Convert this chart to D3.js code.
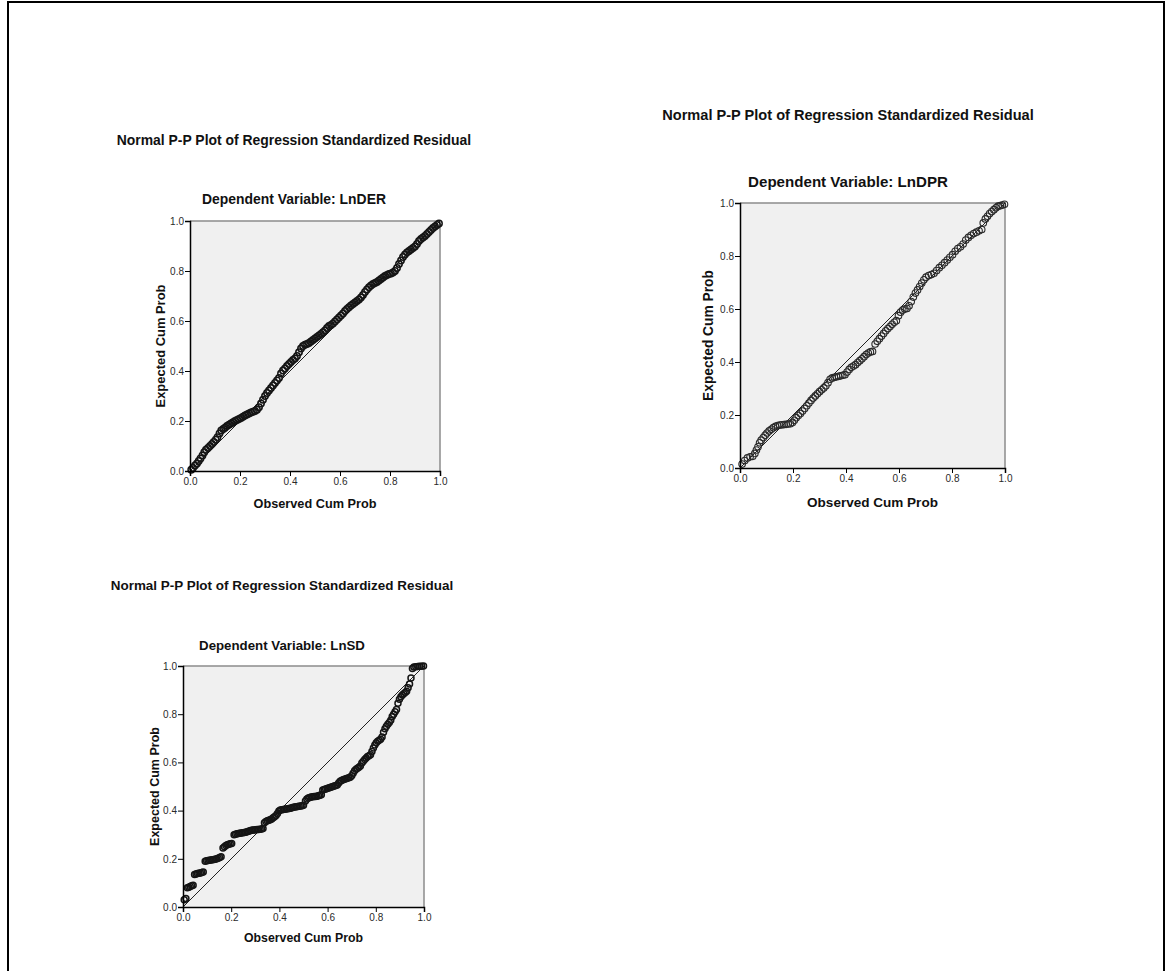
<!DOCTYPE html>
<html><head><meta charset="utf-8">
<script src="https://cdn.jsdelivr.net/npm/d3@7"></script>
<style>body{margin:0;background:#fff;} svg{display:block;font-family:"Liberation Sans",Arial,sans-serif;}</style>
</head><body><svg id="c" width="1168" height="971"></svg>
<script>
const mainTitle = "Normal P-P Plot of Regression Standardized Residual";
const dependentVars = ["LnDER", "LnDPR", "LnSD"];
const xAxisTitle = "Observed Cum Prob";
const yAxisTitle = "Expected Cum Prob";
const tickValues = [0, 0.2, 0.4, 0.6, 0.8, 1.0];

// [observed cum prob, expected cum prob]
const derPoints = [
[0.005,0.005],[0.012,0.012],[0.02,0.022],[0.028,0.03],[0.035,0.04],[0.042,0.05],[0.05,0.062],[0.057,0.075],[0.064,0.085],[0.072,0.092],
[0.08,0.10],[0.088,0.108],[0.095,0.116],[0.103,0.125],[0.11,0.135],[0.118,0.15],[0.125,0.162],[0.133,0.168],[0.14,0.173],[0.148,0.18],
[0.156,0.185],[0.164,0.19],[0.172,0.195],[0.18,0.20],[0.188,0.204],[0.196,0.208],[0.204,0.212],[0.212,0.217],[0.22,0.222],[0.228,0.226],
[0.236,0.23],[0.244,0.234],[0.252,0.237],[0.26,0.24],[0.268,0.245],[0.276,0.255],[0.284,0.27],[0.292,0.285],[0.30,0.30],[0.308,0.312],
[0.316,0.322],[0.324,0.332],[0.332,0.342],[0.34,0.352],[0.348,0.362],[0.356,0.372],[0.364,0.39],[0.372,0.402],[0.38,0.41],[0.388,0.42],
[0.396,0.428],[0.404,0.436],[0.412,0.444],[0.42,0.45],[0.428,0.46],[0.436,0.475],[0.444,0.49],[0.452,0.50],[0.46,0.505],[0.468,0.508],
[0.476,0.512],[0.484,0.518],[0.492,0.524],[0.50,0.53],[0.508,0.536],[0.516,0.542],[0.524,0.548],[0.532,0.555],[0.54,0.562],[0.548,0.572],
[0.556,0.58],[0.564,0.584],[0.572,0.59],[0.58,0.598],[0.588,0.606],[0.596,0.614],[0.604,0.622],[0.612,0.63],[0.62,0.64],[0.628,0.648],
[0.636,0.655],[0.644,0.662],[0.652,0.668],[0.66,0.674],[0.668,0.68],[0.676,0.686],[0.684,0.694],[0.692,0.704],[0.70,0.716],[0.708,0.726],
[0.716,0.735],[0.724,0.742],[0.732,0.748],[0.74,0.752],[0.748,0.756],[0.756,0.762],[0.764,0.768],[0.772,0.774],[0.78,0.78],[0.788,0.784],
[0.796,0.788],[0.804,0.79],[0.812,0.794],[0.82,0.80],[0.828,0.812],[0.836,0.828],[0.844,0.842],[0.852,0.856],[0.86,0.866],[0.868,0.874],
[0.876,0.88],[0.884,0.886],[0.892,0.892],[0.90,0.898],[0.908,0.908],[0.916,0.92],[0.924,0.928],[0.932,0.934],[0.94,0.94],[0.948,0.948],
[0.956,0.956],[0.964,0.964],[0.972,0.972],[0.98,0.978],[0.988,0.984],[0.996,0.99]
];

const dprPoints = [
[0.008,0.015],[0.018,0.028],[0.028,0.038],[0.038,0.042],[0.048,0.044],[0.056,0.055],[0.062,0.068],[0.068,0.08],[0.074,0.095],[0.08,0.105],
[0.088,0.115],[0.095,0.124],[0.102,0.132],[0.11,0.14],[0.118,0.146],[0.126,0.152],[0.134,0.157],[0.142,0.16],[0.15,0.162],[0.158,0.163],
[0.166,0.164],[0.174,0.165],[0.182,0.166],[0.19,0.167],[0.198,0.172],[0.205,0.18],[0.212,0.19],[0.22,0.198],[0.228,0.206],[0.236,0.215],
[0.244,0.225],[0.252,0.235],[0.26,0.245],[0.268,0.255],[0.276,0.264],[0.284,0.272],[0.292,0.28],[0.30,0.288],[0.308,0.295],[0.316,0.302],
[0.324,0.31],[0.332,0.322],[0.34,0.335],[0.348,0.34],[0.356,0.342],[0.364,0.344],[0.372,0.346],[0.38,0.348],[0.388,0.35],[0.396,0.352],
[0.404,0.362],[0.412,0.372],[0.42,0.38],[0.428,0.385],[0.436,0.39],[0.444,0.398],[0.452,0.405],[0.46,0.412],[0.468,0.42],[0.476,0.428],
[0.484,0.434],[0.492,0.438],[0.50,0.44],[0.51,0.468],[0.518,0.478],[0.526,0.488],[0.534,0.498],[0.542,0.508],[0.55,0.518],[0.558,0.526],
[0.566,0.534],[0.574,0.542],[0.582,0.55],[0.59,0.556],[0.598,0.575],[0.606,0.588],[0.614,0.596],[0.622,0.6],[0.63,0.602],[0.638,0.612],
[0.646,0.628],[0.654,0.645],[0.662,0.66],[0.67,0.672],[0.678,0.685],[0.686,0.698],[0.694,0.71],[0.702,0.72],[0.712,0.726],[0.722,0.73],
[0.732,0.735],[0.742,0.745],[0.752,0.756],[0.762,0.765],[0.772,0.775],[0.782,0.785],[0.792,0.795],[0.802,0.805],[0.812,0.818],[0.822,0.828],
[0.832,0.835],[0.842,0.845],[0.852,0.86],[0.862,0.87],[0.872,0.878],[0.882,0.885],[0.892,0.89],[0.902,0.895],[0.912,0.9],[0.918,0.925],
[0.926,0.94],[0.934,0.95],[0.942,0.96],[0.95,0.968],[0.958,0.975],[0.966,0.982],[0.974,0.988],[0.982,0.99],[0.99,0.992],[0.998,0.995]
];

const sdPoints = [
[0.005,0.03],[0.012,0.035],[0.018,0.08],[0.024,0.082],[0.03,0.085],[0.036,0.088],[0.042,0.09],[0.048,0.135],[0.054,0.137],[0.06,0.139],
[0.066,0.14],[0.072,0.141],[0.078,0.143],[0.084,0.145],[0.092,0.19],[0.098,0.192],[0.104,0.193],[0.11,0.194],[0.116,0.195],[0.122,0.196],
[0.128,0.197],[0.134,0.198],[0.14,0.2],[0.146,0.202],[0.152,0.205],[0.158,0.208],[0.166,0.245],[0.172,0.25],[0.178,0.255],[0.184,0.258],
[0.19,0.26],[0.196,0.262],[0.202,0.264],[0.212,0.3],[0.218,0.302],[0.224,0.304],[0.23,0.305],[0.236,0.306],[0.242,0.307],[0.248,0.308],
[0.254,0.309],[0.26,0.31],[0.266,0.312],[0.272,0.314],[0.278,0.316],[0.284,0.318],[0.29,0.319],[0.296,0.32],[0.302,0.321],[0.308,0.322],
[0.314,0.322],[0.32,0.323],[0.326,0.324],[0.332,0.326],[0.338,0.35],[0.344,0.355],[0.35,0.358],[0.356,0.36],[0.362,0.362],[0.368,0.365],
[0.374,0.37],[0.38,0.375],[0.386,0.38],[0.392,0.388],[0.398,0.398],[0.404,0.402],[0.41,0.404],[0.416,0.405],[0.422,0.406],[0.428,0.407],
[0.434,0.408],[0.44,0.409],[0.446,0.41],[0.452,0.412],[0.458,0.414],[0.464,0.415],[0.47,0.416],[0.476,0.417],[0.482,0.418],[0.488,0.419],
[0.494,0.42],[0.5,0.422],[0.508,0.44],[0.514,0.448],[0.52,0.452],[0.526,0.454],[0.532,0.456],[0.538,0.457],[0.544,0.458],[0.55,0.459],
[0.556,0.46],[0.562,0.462],[0.568,0.464],[0.574,0.466],[0.58,0.485],[0.586,0.488],[0.592,0.49],[0.598,0.492],[0.604,0.494],[0.61,0.496],
[0.616,0.498],[0.622,0.5],[0.628,0.502],[0.634,0.504],[0.64,0.506],[0.646,0.515],[0.652,0.522],[0.658,0.525],[0.664,0.528],[0.67,0.53],
[0.676,0.532],[0.682,0.534],[0.688,0.536],[0.694,0.538],[0.7,0.545],[0.706,0.555],[0.712,0.565],[0.718,0.572],[0.724,0.576],[0.73,0.58],
[0.736,0.585],[0.742,0.598],[0.748,0.605],[0.754,0.612],[0.76,0.618],[0.766,0.624],[0.772,0.628],[0.778,0.632],[0.784,0.645],[0.79,0.66],
[0.796,0.672],[0.802,0.682],[0.808,0.688],[0.814,0.692],[0.82,0.696],[0.826,0.705],[0.832,0.725],[0.838,0.74],[0.844,0.75],[0.85,0.758],
[0.856,0.766],[0.862,0.775],[0.868,0.79],[0.874,0.8],[0.88,0.81],[0.886,0.82],[0.892,0.845],[0.898,0.862],[0.904,0.872],[0.91,0.88],
[0.916,0.885],[0.922,0.89],[0.928,0.895],[0.934,0.91],[0.94,0.925],[0.946,0.95],[0.952,0.99],[0.958,0.996],[0.966,0.997],[0.974,0.998],
[0.982,0.999],[0.99,0.999],[0.998,1.0]
];

const seriesList = [derPoints, dprPoints, sdPoints];

// layout (pixels) for each panel
const panels = [
  {left:190, top:221, size:250, cx:294, titleY:145, titleW:355, subY:204, subW:184, xlabY:508, xlabW:123, ylabX:160, r:3.2, sw:1.5, stroke:"#151515"},
  {left:740, top:203, size:265, cx:848, titleY:120, titleW:372, subY:187, subW:200, xlabY:507, xlabW:131, ylabX:708, r:3.3, sw:1.1, stroke:"#2a2a2a"},
  {left:183, top:666, size:241, cx:282, titleY:590, titleW:343, subY:650, subW:166, xlabY:942, xlabW:119, ylabX:155, r:3.0, sw:1.5, stroke:"#151515"}
];

const svg = d3.select("#c");

// outer frame
svg.append("rect").attr("x", 8).attr("y", 2).attr("width", 1156).attr("height", 1000)
  .attr("fill", "none").attr("stroke", "#000").attr("stroke-width", 2);

function fitText(sel, w) {
  sel.attr("font-size", 12);
  const l = sel.node().getComputedTextLength();
  sel.attr("font-size", 12 * w / l);
  return sel;
}

panels.forEach((p, i) => {
  const data = seriesList[i];
  const g = svg.append("g");
  const x = d3.scaleLinear().domain([0, 1]).range([p.left, p.left + p.size]);
  const y = d3.scaleLinear().domain([0, 1]).range([p.top + p.size, p.top]);

  // titles
  fitText(g.append("text").attr("x", p.cx).attr("y", p.titleY).attr("text-anchor", "middle")
    .attr("font-weight", "bold").attr("fill", "#111").text(mainTitle), p.titleW);
  fitText(g.append("text").attr("x", p.cx).attr("y", p.subY).attr("text-anchor", "middle")
    .attr("font-weight", "bold").attr("fill", "#111").text("Dependent Variable: " + dependentVars[i]), p.subW);

  // plot background
  g.append("rect").attr("x", x(0)).attr("y", y(1)).attr("width", x(1) - x(0)).attr("height", y(0) - y(1))
    .attr("fill", "#f0f0f0");
  // top and right frame
  g.append("path").attr("d", `M${x(0)},${y(1)}H${x(1)}V${y(0)}`).attr("fill", "none")
    .attr("stroke", "#8c8c8c").attr("stroke-width", 1.5);

  // reference diagonal
  g.append("line").attr("x1", x(0)).attr("y1", y(0)).attr("x2", x(1)).attr("y2", y(1))
    .attr("stroke", "#222").attr("stroke-width", 1);

  // points
  g.append("g").selectAll("circle").data(data).join("circle")
    .attr("cx", d => x(d[0])).attr("cy", d => y(d[1])).attr("r", p.r)
    .attr("fill", "none").attr("stroke", p.stroke).attr("stroke-width", p.sw);

  // axes
  const fmt = d3.format(".1f");
  const ax = g.append("g").attr("transform", `translate(0,${y(0)})`)
    .call(d3.axisBottom(x).tickValues(tickValues).tickFormat(fmt).tickSizeOuter(0).tickSize(5).tickPadding(2));
  const ay = g.append("g").attr("transform", `translate(${x(0)},0)`)
    .call(d3.axisLeft(y).tickValues(tickValues).tickFormat(fmt).tickSizeOuter(0).tickSize(5).tickPadding(1));
  [ax, ay].forEach(a => {
    a.select(".domain").attr("stroke", "#000").attr("stroke-width", 1.5);
    a.selectAll(".tick line").attr("stroke", "#000");
    a.selectAll(".tick text").attr("font-size", 10).attr("fill", "#2a2a2a")
      .attr("font-family", "'Liberation Sans', Arial, sans-serif");
  });

  // axis titles
  fitText(g.append("text").attr("x", (x(0) + x(1)) / 2).attr("y", p.xlabY).attr("text-anchor", "middle")
    .attr("font-weight", "bold").attr("fill", "#111").text(xAxisTitle), p.xlabW);
  fitText(g.append("text").attr("transform", `translate(${p.ylabX},${(y(0) + y(1)) / 2}) rotate(-90)`)
    .attr("dy", "0.35em").attr("text-anchor", "middle")
    .attr("font-weight", "bold").attr("fill", "#111").text(yAxisTitle), p.xlabW);
});
</script></body></html>
